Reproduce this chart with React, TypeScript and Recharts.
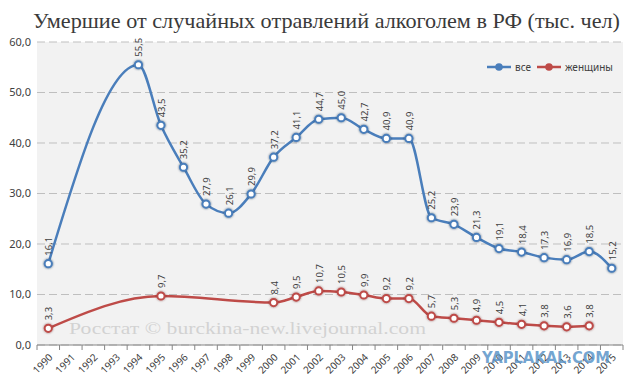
import React from 'react';
import { LineChart, Line, XAxis, YAxis, CartesianGrid, LabelList } from 'recharts';

const years: string[] = ['1990', '1991', '1992', '1993', '1994', '1995', '1996', '1997', '1998', '1999', '2000', '2001', '2002', '2003', '2004', '2005', '2006', '2007', '2008', '2009', '2010', '2011', '2012', '2013', '2014', '2015'];
const allDeaths: (number | null)[] = [16.1, null, null, null, 55.5, 43.5, 35.2, 27.9, 26.1, 29.9, 37.2, 41.1, 44.7, 45.0, 42.7, 40.9, 40.9, 25.2, 23.9, 21.3, 19.1, 18.4, 17.3, 16.9, 18.5, 15.2];
const womenDeaths: (number | null)[] = [3.3, null, null, null, null, 9.7, null, null, null, null, 8.4, 9.5, 10.7, 10.5, 9.9, 9.2, 9.2, 5.7, 5.3, 4.9, 4.5, 4.1, 3.8, 3.6, 3.8, null];
const yTicks: number[] = [0, 10, 20, 30, 40, 50, 60];
const seriesNames: string[] = ['все', 'женщины'];
const titleText = 'Умершие от случайных отравлений алкоголем в РФ (тыс. чел)';
const sourceText = 'Росстат © burckina-new.livejournal.com';
const stampText = 'YAPLAKAL.COM';

const data = years.map((y, i) => ({ year: y, all: allDeaths[i], women: womenDeaths[i] }));

const W = 640;
const H = 385;
const M = { top: 42, right: 17, left: 0, bottom: 0 };
const Y_W = 37;
const X_H = 40;
const PLOT_W = W - M.left - M.right - Y_W;
const STEP = PLOT_W / years.length;

const BLUE = '#4a7ebb';
const RED = '#be4b48';
const TXT = '#404040';
const SANS = '"Noto Sans", "Open Sans", sans-serif';
const SERIF = '"Liberation Serif", "DejaVu Serif", serif';

const fmt = (v: number) => v.toFixed(1).replace('.', ',');

const XTick = (props: any) => {
  const { x, y, payload } = props;
  const half = STEP / 2;
  const isLast = payload.value === years[years.length - 1];
  return (
    <g>
      <line x1={x - half} x2={x - half} y1={y} y2={y + 5} stroke="#868686" />
      {isLast && <line x1={x + half} x2={x + half} y1={y} y2={y + 5} stroke="#868686" />}
      <text
        x={x + 5}
        y={y + 13}
        textAnchor="end"
        transform={`rotate(-45, ${x + 5}, ${y + 13})`}
        fontSize={10}
        fontFamily={SANS}
        fill={TXT}
      >
        {payload.value}
      </text>
    </g>
  );
};

const makeDot = (color: string, filterId: string) => (props: any) => {
  const { cx, cy, value, index } = props;
  if (value == null || cx == null || cy == null) return <g key={index} />;
  return (
    <circle
      key={index}
      cx={cx}
      cy={cy}
      r={3.6}
      fill="#fff"
      stroke={color}
      strokeWidth={2}
      filter={`url(#${filterId})`}
    />
  );
};

const renderLabel = (props: any) => {
  const { x, y, value, index } = props;
  if (value == null || x == null || y == null) return null;
  const tx = x + 4;
  const ty = y - 8;
  return (
    <text
      key={index}
      x={tx}
      y={ty}
      transform={`rotate(-90, ${tx}, ${ty})`}
      textAnchor="start"
      fontSize={9.5}
      fontFamily={SANS}
      fill={TXT}
    >
      {fmt(Number(value))}
    </text>
  );
};

const LegendBox = () => {
  const items = [
    { name: seriesNames[0], color: BLUE },
    { name: seriesNames[1], color: RED },
  ];
  return (
    <div
      style={{
        position: 'absolute',
        left: 487,
        top: 62,
        display: 'flex',
        alignItems: 'center',
        fontFamily: SANS,
        fontSize: 10,
        color: TXT,
        lineHeight: '10px',
      }}
    >
      {items.map((it) => (
        <div key={it.name} style={{ display: 'flex', alignItems: 'center', marginRight: 6 }}>
          <svg width={24} height={10} style={{ marginRight: 4 }}>
            <line x1={0} x2={24} y1={5} y2={5} stroke={it.color} strokeWidth={2.5} />
            <circle cx={12} cy={5} r={3.8} fill={it.color} />
          </svg>
          <span>{it.name}</span>
        </div>
      ))}
    </div>
  );
};

export default function App() {
  return (
    <div style={{ position: 'absolute', left: 0, top: 0, width: W, height: H, background: '#fff', overflow: 'hidden' }}>
      <svg width={0} height={0} style={{ position: 'absolute' }}>
        <defs>
          <filter id="glowBlue" x="-100%" y="-100%" width="300%" height="300%">
            <feDropShadow dx={0} dy={0} stdDeviation={1.3} floodColor="#1f3557" floodOpacity={0.75} />
          </filter>
          <filter id="glowRed" x="-100%" y="-100%" width="300%" height="300%">
            <feDropShadow dx={0} dy={0} stdDeviation={1.3} floodColor="#5a1d1b" floodOpacity={0.6} />
          </filter>
        </defs>
      </svg>
      <svg width={W} height={H} style={{ position: 'absolute', left: 0, top: 0, pointerEvents: 'none' }}>
        <text x={33} y={28} fontSize={22} fontFamily={SERIF} fill="#3a3a3a" textLength={587} lengthAdjust="spacingAndGlyphs">
          {titleText}
        </text>
      </svg>
      <div style={{ position: 'absolute', left: 0, top: 0 }}>
        <LineChart width={W} height={H} data={data} margin={M}>
          <CartesianGrid
            vertical={false}
            horizontal={true}
            stroke="#bfbfbf"
            strokeDasharray="8 4"
            fill="#f2f2f2"
            fillOpacity={1}
          />
          <XAxis
            dataKey="year"
            interval={0}
            height={X_H}
            padding={{ left: STEP / 2, right: STEP / 2 }}
            tick={<XTick />}
            tickLine={false}
            tickSize={0}
            tickMargin={0}
            axisLine={{ stroke: '#868686' }}
          />
          <YAxis
            width={Y_W}
            domain={[0, 60]}
            ticks={yTicks}
            tickFormatter={fmt}
            axisLine={false}
            tickLine={false}
            tickSize={0}
            tickMargin={6}
            tick={{ fontSize: 11, fill: TXT, fontFamily: SANS }}
            interval={0}
          />
          <Line
            name={seriesNames[1]}
            dataKey="women"
            type="monotone"
            stroke={RED}
            strokeWidth={2.5}
            connectNulls
            isAnimationActive={false}
            dot={makeDot(RED, 'glowRed')}
            activeDot={false}
          >
            <LabelList dataKey="women" content={renderLabel} />
          </Line>
          <Line
            name={seriesNames[0]}
            dataKey="all"
            type="monotone"
            stroke={BLUE}
            strokeWidth={2.5}
            connectNulls
            isAnimationActive={false}
            dot={makeDot(BLUE, 'glowBlue')}
            activeDot={false}
          >
            <LabelList dataKey="all" content={renderLabel} />
          </Line>
        </LineChart>
      </div>
      <LegendBox />
      <svg width={W} height={H} style={{ position: 'absolute', left: 0, top: 0, pointerEvents: 'none' }}>
        <text x={69} y={334} fontSize={17} fontFamily={SERIF} fill="#d2d2d2" textLength={357} lengthAdjust="spacingAndGlyphs">
          {sourceText}
        </text>
        <text
          x={482}
          y={363}
          fontSize={16}
          fontWeight={900}
          fontFamily='"DejaVu Sans", sans-serif'
          fill="#5b95c9"
          fillOpacity={0.85}
          textLength={128}
          lengthAdjust="spacingAndGlyphs"
        >
          {stampText}
        </text>
      </svg>
    </div>
  );
}
